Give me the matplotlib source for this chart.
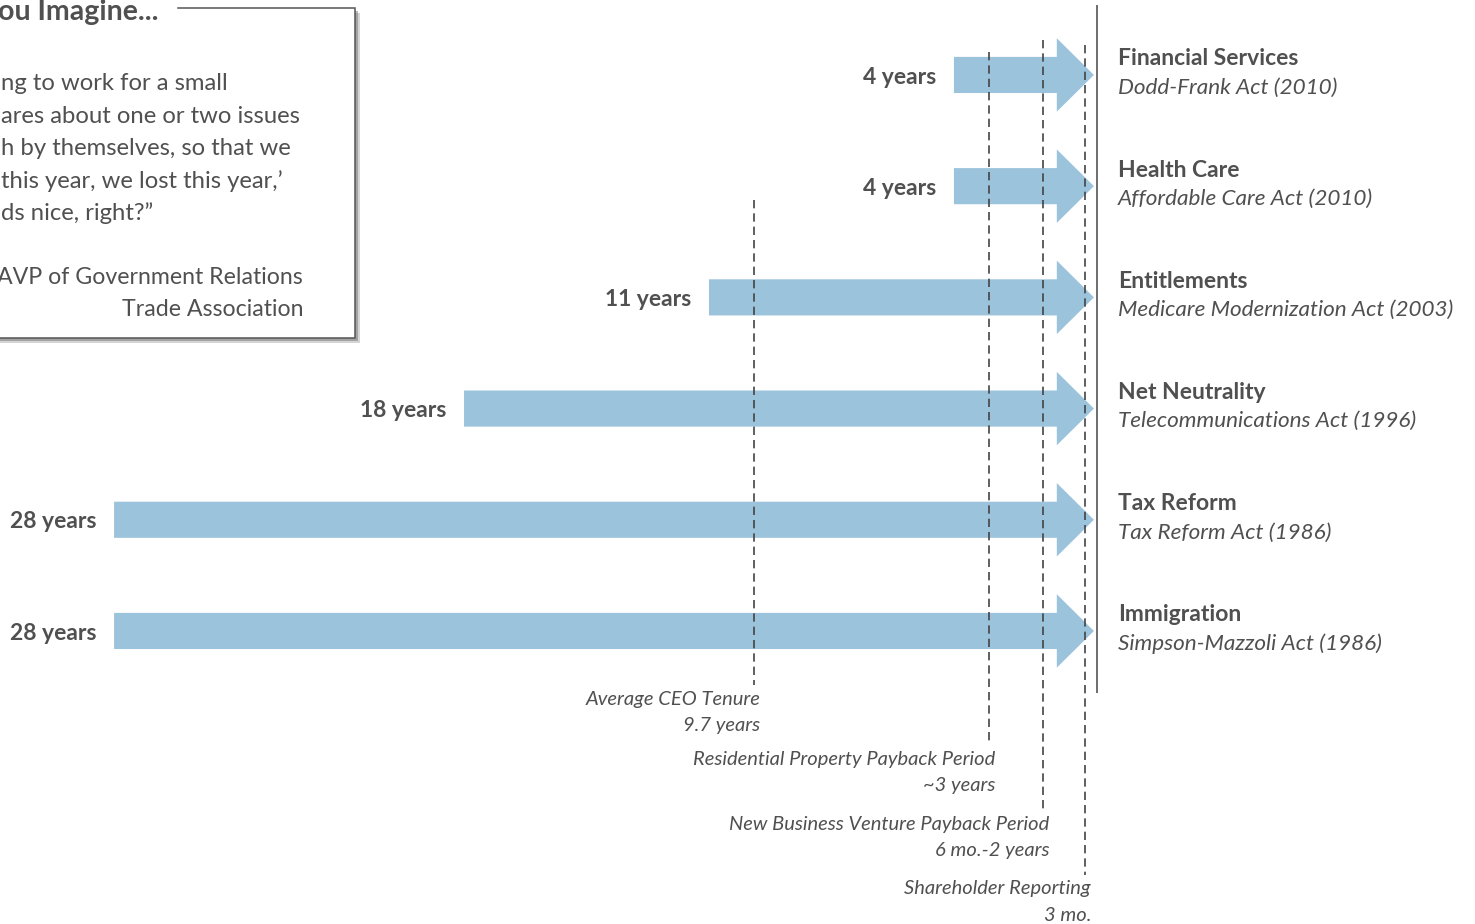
import matplotlib.pyplot as plt
import matplotlib.patheffects as pe
from matplotlib.patches import Rectangle

plt.rcParams['font.family'] = ['Lato', 'DejaVu Sans']

# how long each policy area went between major reforms
issues = ['Financial Services', 'Health Care', 'Entitlements',
          'Net Neutrality', 'Tax Reform', 'Immigration']
acts = ['Dodd-Frank Act (2010)', 'Affordable Care Act (2010)',
        'Medicare Modernization Act (2003)', 'Telecommunications Act (1996)',
        'Tax Reform Act (1986)', 'Simpson-Mazzoli Act (1986)']
years = [4, 4, 11, 18, 28, 28]

# business planning horizons for comparison
horizon_names = ['Average CEO Tenure', 'Residential Property Payback Period',
                 'New Business Venture Payback Period', 'Shareholder Reporting']
horizon_labels = ['9.7 years', '~3 years', '6 mo.-2 years', '3 mo.']
horizon_years = [9.7, 3, 1.45, 0.25]

# quote box text
quote_title = 'ou Imagine...'
quote_lines = ['ng to work for a small',
               'ares about one or two issues',
               'h by themselves, so that we',
               'this year, we lost this year,\u2019',
               'ds nice, right?\u201d']
quote_source = ['AVP of Government Relations', 'Trade Association']

TEXT = '#505050'
ARROW = '#9cc3dc'
W, H = 1475, 924

fig = plt.figure(figsize=(W / 100, H / 100), dpi=100)

# decoration layer in pixel units (quote box)
deco = fig.add_axes([0, 0, 1, 1])
deco.set_xlim(0, W)
deco.set_ylim(H, 0)
deco.axis('off')

box = Rectangle((-20, 8), 375, 330, facecolor='white', edgecolor='none', zorder=1)
box.set_path_effects([pe.SimplePatchShadow(offset=(3.5, -3.5), shadow_rgbFace='#888888', alpha=0.35),
                      pe.SimplePatchShadow(offset=(2.5, -2.5), shadow_rgbFace='#666666', alpha=0.45),
                      pe.Normal()])
deco.add_patch(box)
deco.plot([178, 355, 355, -20], [8, 8, 338, 338], color='#555555', lw=1.1,
          solid_joinstyle='miter', zorder=2)

deco.text(158, 12, quote_title, ha='right', va='center', fontsize=20.5,
          fontweight='bold', color=TEXT, zorder=3)
for i, line in enumerate(quote_lines):
    deco.text(1, 84 + 32.3 * i, line, ha='left', va='center', fontsize=17.2,
              color=TEXT, zorder=3)
for i, line in enumerate(quote_source):
    deco.text(303, 277 + 32 * i, line, ha='right', va='center', fontsize=16.7,
              color=TEXT, zorder=3)

# main chart: x in years (reversed), y in rows
ax = fig.add_axes([0, 0, 1, 1])
ax.patch.set_alpha(0)
ax.set_xlim(31.26, -10.89)
ax.set_ylim(7.635, -0.674)
ax.axis('off')

for i, yrs in enumerate(years):
    ax.arrow(yrs, i, -yrs, 0, width=0.325, head_width=0.66, head_length=1.06,
             length_includes_head=True, color=ARROW, lw=0, zorder=2)
    ax.text(yrs + 0.5, i + 0.02, f'{yrs} years', ha='right', va='center',
            fontsize=16.5, fontweight='bold', color=TEXT)
    ax.text(-0.69, i - 0.145, issues[i], ha='left', va='center',
            fontsize=16.5, fontweight='bold', color=TEXT)
    ax.text(-0.69, i + 0.115, acts[i], ha='left', va='center',
            fontsize=16.2, fontstyle='italic', color=TEXT)

# dashed horizon markers and their captions
line_tops = [1.124, -0.207, -0.315, -0.27]
line_bottoms = [5.486, 6.025, 6.61, 7.19]
for x, top, bottom, name, label in zip(horizon_years, line_tops, line_bottoms,
                                       horizon_names, horizon_labels):
    ax.vlines(x, top, bottom, colors='#444444', linestyles=(0, (5, 3)), lw=1.2, zorder=3)
    ax.text(x - 0.17, bottom + 0.13, name, ha='right', va='center', fontsize=14.5,
            fontstyle='italic', color=TEXT)
    ax.text(x - 0.17, bottom + 0.365, label, ha='right', va='center', fontsize=14.5,
            fontstyle='italic', color=TEXT)

# baseline at the point of reform
ax.vlines(-0.086, -0.629, 5.56, colors='#555555', lw=1.2, zorder=3)

fig.savefig('out.png', dpi=100)
